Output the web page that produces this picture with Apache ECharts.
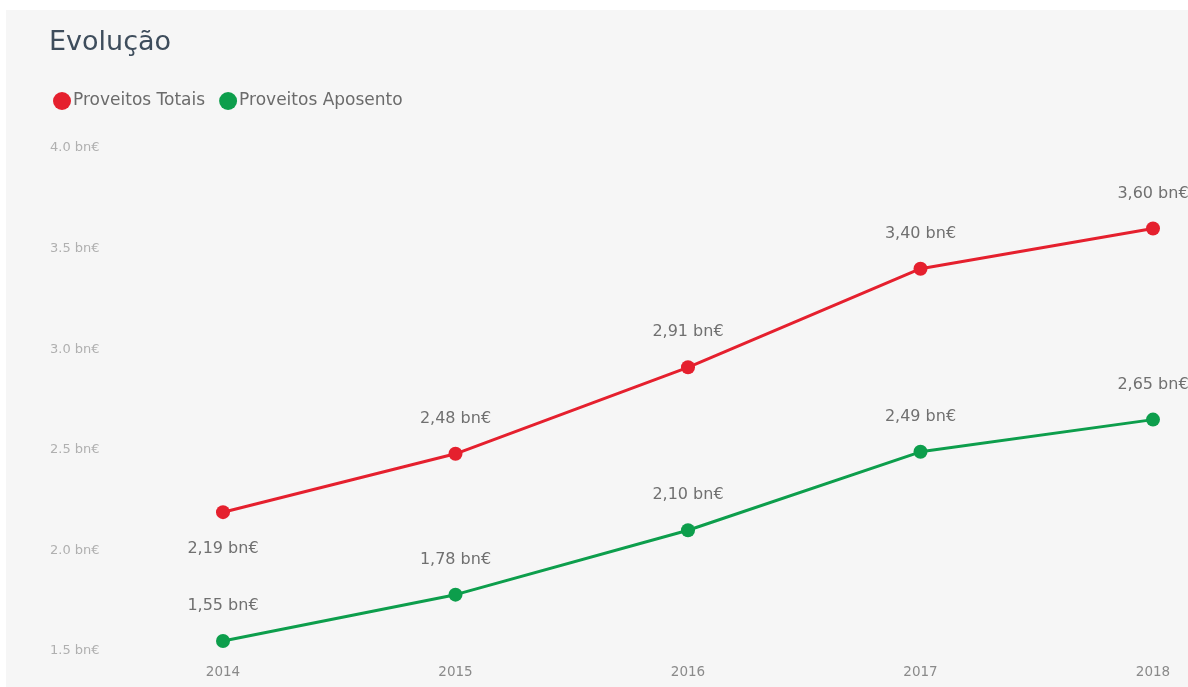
<!DOCTYPE html>
<html>
<head>
<meta charset="utf-8">
<script src="https://cdn.jsdelivr.net/npm/echarts@6/dist/echarts.min.js"></script>
<style>
  html, body { margin: 0; padding: 0; background: #ffffff; }
  #chart { width: 1188px; height: 687px; }
</style>
</head>
<body>
<div id="chart"></div>
<script>
// Annual revenue, in billions of euros
const years = ['2014', '2015', '2016', '2017', '2018'];
const proveitosTotais = [2.19, 2.48, 2.91, 3.40, 3.60];
const proveitosAposento = [1.55, 1.78, 2.10, 2.49, 2.65];
const yTicks = [1.5, 2.0, 2.5, 3.0, 3.5, 4.0];

const FONT = '"DejaVu Sans", "Noto Sans", sans-serif';
const RED = '#e5202e';
const GREEN = '#0d9e4c';

const fmtLabel = v => v.toFixed(2).replace('.', ',') + ' bn€';

function lineSeries(name, values, color, belowIdx) {
  return {
    name: name,
    type: 'line',
    data: values.map((v, i) => ({
      value: v,
      label: i === belowIdx ? { position: 'bottom', distance: 22 } : undefined
    })),
    symbol: 'circle',
    symbolSize: 14,
    lineStyle: { width: 3, color: color },
    itemStyle: { color: color },
    label: {
      show: true,
      position: 'top',
      distance: 20,
      color: '#707070',
      fontFamily: FONT,
      fontSize: 16,
      formatter: p => fmtLabel(p.value)
    },
    emphasis: { disabled: true },
    z: 3
  };
}

const chart = echarts.init(document.getElementById('chart'), null, { renderer: 'canvas' });
chart.setOption({
  animation: false,
  backgroundColor: '#ffffff',
  graphic: [{
    type: 'rect',
    left: 6, top: 10,
    shape: { width: 1182, height: 677 },
    style: { fill: '#f6f6f6' },
    z: -10
  }],
  title: {
    text: 'Evolução',
    left: 44, top: 24,
    textStyle: { color: '#3e4d5c', fontFamily: FONT, fontSize: 27, fontWeight: 'normal' }
  },
  legend: {
    left: 48, top: 87,
    icon: 'circle',
    itemWidth: 18, itemHeight: 18,
    itemGap: 14,
    textStyle: { color: '#6b6b6b', fontFamily: FONT, fontSize: 17, padding: [0, 0, 0, -3] },
    data: ['Proveitos Totais', 'Proveitos Aposento']
  },
  grid: { left: 223, right: 35, top: 148, bottom: 36 },
  xAxis: {
    type: 'category',
    data: years,
    boundaryGap: false,
    axisLine: { show: false },
    axisTick: { show: false },
    axisLabel: { color: '#8a8a8a', fontFamily: FONT, fontSize: 13.5, margin: 14 }
  },
  yAxis: {
    type: 'value',
    min: yTicks[0],
    max: yTicks[yTicks.length - 1],
    interval: 0.5,
    splitLine: { show: false },
    axisLine: { show: false },
    axisTick: { show: false },
    axisLabel: {
      color: '#b0b0b0', fontFamily: FONT, fontSize: 13,
      align: 'left', margin: 173,
      formatter: v => v.toFixed(1) + ' bn€'
    }
  },
  series: [
    lineSeries('Proveitos Totais', proveitosTotais, RED, 0),
    lineSeries('Proveitos Aposento', proveitosAposento, GREEN, -1)
  ]
});
</script>
</body>
</html>
